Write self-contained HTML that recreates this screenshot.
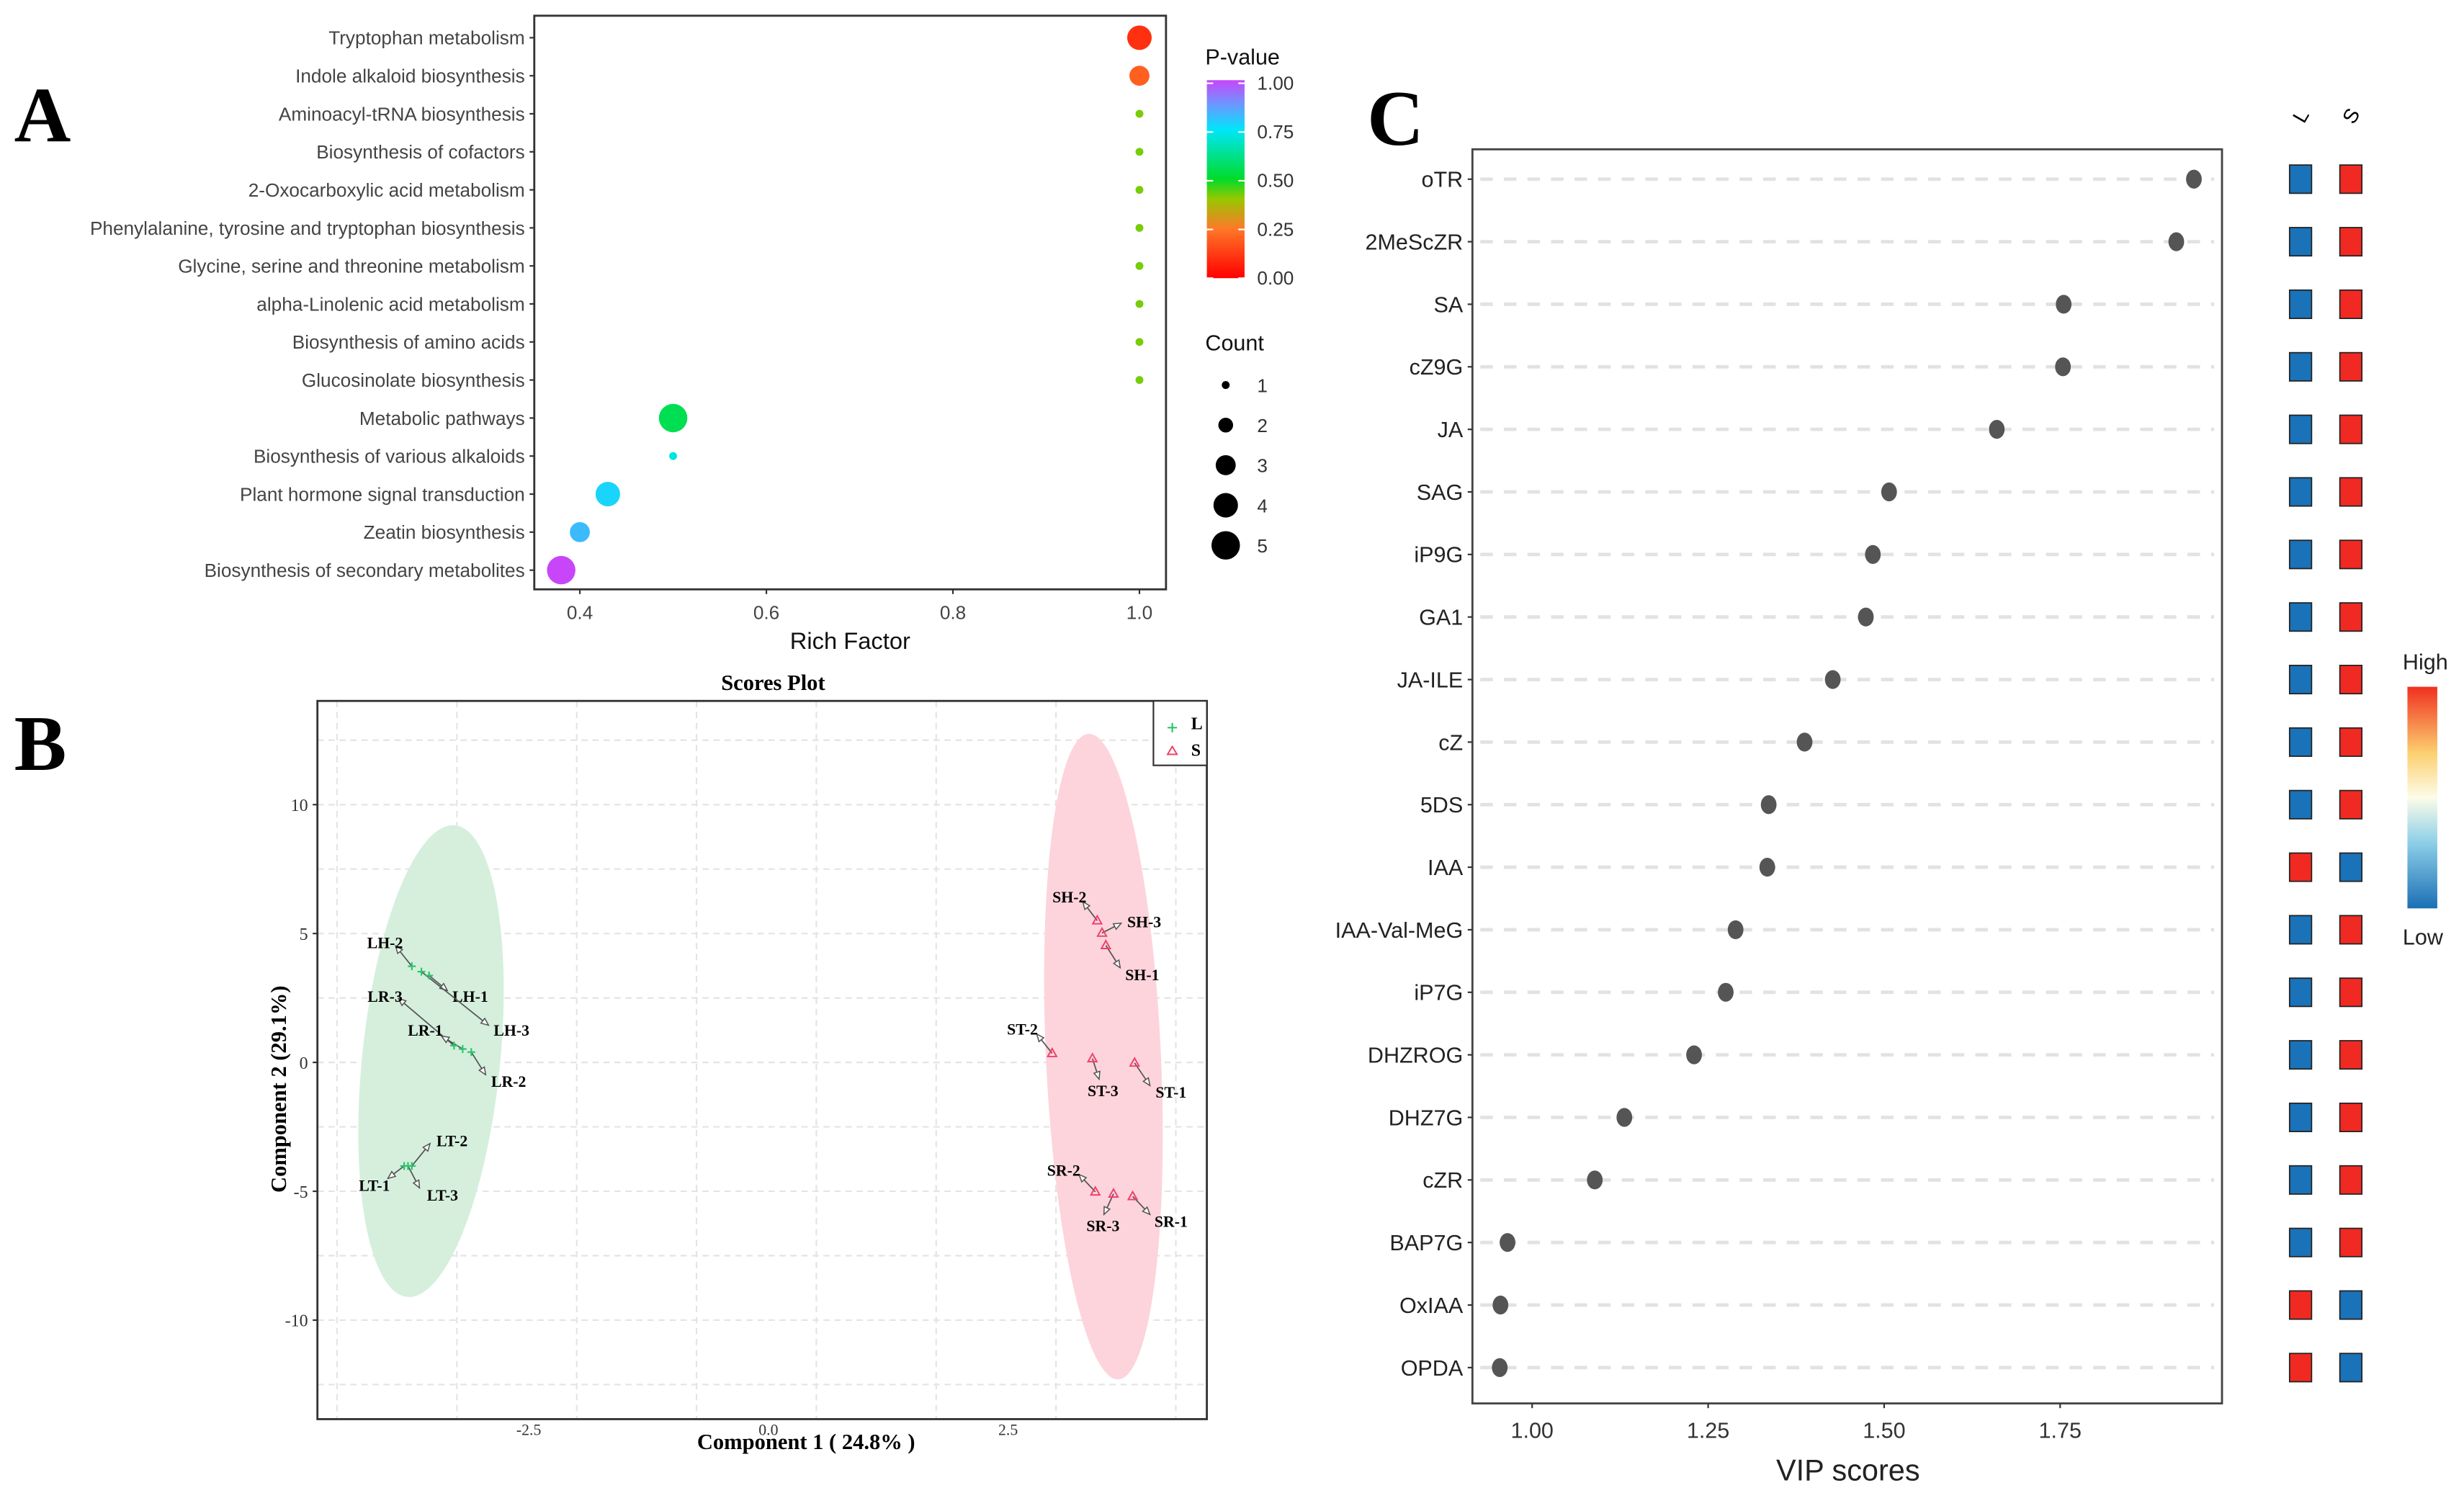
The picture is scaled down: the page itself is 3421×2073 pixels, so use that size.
<!DOCTYPE html>
<html><head><meta charset="utf-8"><style>
html,body{margin:0;padding:0;background:#fff;}
svg{display:block;}
text{font-family:"Liberation Sans",sans-serif;}
.serif{font-family:"Liberation Serif",serif;}
</style></head><body>
<svg id="fig" xmlns="http://www.w3.org/2000/svg" width="3421" height="2073" viewBox="0 0 1568 950" preserveAspectRatio="none">
<rect width="1568" height="950" fill="#fff"/>
<g id="A"></g>
<g id="B"></g>
<g id="C"></g>
</svg>
<script>
// ---------- Panel A data ----------
const pathways = ["Tryptophan metabolism","Indole alkaloid biosynthesis","Aminoacyl-tRNA biosynthesis","Biosynthesis of cofactors","2-Oxocarboxylic acid metabolism","Phenylalanine, tyrosine and tryptophan biosynthesis","Glycine, serine and threonine metabolism","alpha-Linolenic acid metabolism","Biosynthesis of amino acids","Glucosinolate biosynthesis","Metabolic pathways","Biosynthesis of various alkaloids","Plant hormone signal transduction","Zeatin biosynthesis","Biosynthesis of secondary metabolites"];
const richFactor = [1.0,1.0,1.0,1.0,1.0,1.0,1.0,1.0,1.0,1.0,0.5,0.5,0.43,0.4,0.38];
const pValues = [0.1,0.2,0.42,0.42,0.42,0.42,0.42,0.42,0.42,0.42,0.55,0.72,0.78,0.82,1.0];
const counts = [4,3,1,1,1,1,1,1,1,1,5,1,4,3,5];
const richTicks = [0.4,0.6,0.8,1.0];
const pTicks = ["1.00","0.75","0.50","0.25","0.00"];
const countTicks = [1,2,3,4,5];
// ---------- Panel B data ----------
const lPoints = [[-3.72,3.73],[-3.62,3.52],[-3.54,3.37],[-3.28,0.65],[-3.19,0.52],[-3.10,0.40],[-3.80,-4.02],[-3.76,-4.02],[-3.72,-4.02]];
const sPoints = [[3.43,5.5],[3.48,5.02],[3.52,4.54],[2.96,0.35],[3.38,0.15],[3.82,-0.02],[3.41,-5.02],[3.6,-5.1],[3.8,-5.2]];
const sampleLabels = ["LH-2","LH-1","LH-3","LR-3","LR-1","LR-2","LT-2","LT-1","LT-3","SH-2","SH-3","SH-1","ST-2","ST-3","ST-1","SR-2","SR-3","SR-1"];
const labelPos = [[-4.0,4.65],[-3.11,2.56],[-2.68,1.25],[-4.0,2.56],[-3.58,1.25],[-2.71,-0.73],[-3.3,-3.04],[-4.11,-4.77],[-3.4,-5.15],[3.14,6.42],[3.92,5.46],[3.9,3.4],[2.65,1.29],[3.49,-1.1],[4.2,-1.15],[3.08,-4.19],[3.49,-6.33],[4.2,-6.17]];
const arrowFrom = [[-3.72,3.73],[-3.54,3.37],[-3.62,3.52],[-3.28,0.65],[-3.19,0.52],[-3.10,0.40],[-3.72,-4.02],[-3.8,-4.02],[-3.76,-4.02],[3.43,5.5],[3.48,5.02],[3.52,4.54],[2.96,0.35],[3.38,0.15],[3.82,-0.02],[3.41,-5.02],[3.6,-5.1],[3.8,-5.2]];
const arrowTo = [[-3.89,4.52],[-3.35,2.79],[-2.92,1.44],[-3.86,2.48],[-3.41,1.02],[-2.95,-0.48],[-3.53,-3.15],[-3.97,-4.5],[-3.64,-4.87],[3.28,6.23],[3.68,5.4],[3.67,3.67],[2.8,1.1],[3.45,-0.65],[3.98,-0.9],[3.24,-4.35],[3.5,-5.9],[3.98,-5.9]];
const xTicksB = [-2.5,0,2.5];
const yTicksB = [10,5,0,-5,-10];
const ellipseL = {top:[-3.27,9.2],bottom:[-3.77,-9.1],hw:0.72};
const ellipseS = {top:[3.34,12.75],bottom:[3.65,-12.3],hw:0.6};
// ---------- Panel C data ----------
const compounds = ["oTR","2MeScZR","SA","cZ9G","JA","SAG","iP9G","GA1","JA-ILE","cZ","5DS","IAA","IAA-Val-MeG","iP7G","DHZROG","DHZ7G","cZR","BAP7G","OxIAA","OPDA"];
const vipScores = [1.94,1.915,1.755,1.754,1.66,1.507,1.484,1.474,1.427,1.387,1.336,1.334,1.289,1.275,1.23,1.131,1.089,0.965,0.955,0.954];
const lHigh = [0,0,0,0,0,0,0,0,0,0,0,1,0,0,0,0,0,0,1,1];
const vipTicks = ["1.00","1.25","1.50","1.75"];

const NS="http://www.w3.org/2000/svg";
function mk(parent,tag,attrs,txt){const e=document.createElementNS(NS,tag);for(const k in attrs)e.setAttribute(k,attrs[k]);if(txt!==undefined)e.textContent=txt;parent.appendChild(e);return e;}
function pColor(p){
  const st=[[0,[255,0,0]],[0.25,[255,120,40]],[0.4,[150,200,0]],[0.5,[0,220,40]],[0.75,[0,230,250]],[0.88,[110,150,255]],[1,[200,70,250]]];
  for(let i=0;i<st.length-1;i++){if(p<=st[i+1][0]){const f=(p-st[i][0])/(st[i+1][0]-st[i][0]);const a=st[i][1],b=st[i+1][1];return 'rgb('+a.map((v,k)=>Math.round(v+(b[k]-v)*f)).join(',')+')';}}
  return 'rgb(200,70,250)';
}

// ===== Panel A =====
(function(){
const g=document.getElementById('A');
const L=340,R=742,T=10,B=375;
const xA=v=>369+(v-0.4)/0.2*118.7;
const yA=i=>24+i*24.2;
const t=mk(g,'text',{x:9,y:90,'font-size':50,'font-weight':'bold',class:'serif'},'A');

const box=mk(g,'rect',{x:L,y:T,width:R-L,height:B-T,fill:'#fff',stroke:'#333','stroke-width':1.3});

pathways.forEach((p,i)=>{
  mk(g,'line',{x1:L-3,x2:L,y1:yA(i),y2:yA(i),stroke:'#333'});
  const e=mk(g,'text',{x:L-6,y:yA(i)+4.3,'font-size':12,'text-anchor':'end',fill:'#444'},p);
  
});
richTicks.forEach(v=>{
  mk(g,'line',{x1:xA(v),x2:xA(v),y1:B,y2:B+3,stroke:'#333'});
  const e=mk(g,'text',{x:xA(v),y:B+19,'font-size':12,'text-anchor':'middle',fill:'#444'},v.toFixed(1));
  
});
const xt=mk(g,'text',{x:541,y:413,'font-size':15,'text-anchor':'middle',fill:'#111'},'Rich Factor');

const rFor=c=>Math.sqrt(c)*5.3-2.8;
pathways.forEach((p,i)=>{
  const c=mk(g,'circle',{cx:xA(richFactor[i]),cy:yA(i),r:rFor(counts[i]),fill:pColor(pValues[i])});
  
});
const lt=mk(g,'text',{x:767,y:41,'font-size':14,fill:'#111'},'P-value');

const defs=mk(g,'defs',{});
const gr=mk(defs,'linearGradient',{id:'pg',x1:0,y1:1,x2:0,y2:0});
for(let k=0;k<=20;k++){mk(gr,'stop',{offset:k/20,'stop-color':pColor(k/20)});}
const cb=mk(g,'rect',{x:768,y:51,width:24,height:126,fill:'url(#pg)'});

pTicks.forEach((s,i)=>{
  const y=53+i*31;
  mk(g,'line',{x1:768,x2:772,y1:y,y2:y,stroke:'#fff'});mk(g,'line',{x1:788,x2:792,y1:y,y2:y,stroke:'#fff'});
  mk(g,'text',{x:800,y:y+4,'font-size':12,fill:'#333'},s);
});
const ct=mk(g,'text',{x:767,y:223,'font-size':14,fill:'#111'},'Count');

countTicks.forEach((c,i)=>{
  const y=245+i*25.5;
  const d=mk(g,'circle',{cx:780,cy:y,r:rFor(c),fill:'#000'});
  
  mk(g,'text',{x:800,y:y+4.5,'font-size':12,fill:'#333'},String(c));
});
})();

// ===== Panel B =====
(function(){
const g=document.getElementById('B');
const L=202,R=768,T=446,B=903;
const xB=v=>489+v*61;
const yB=v=>676-v*16.4;
const t=mk(g,'text',{x:9,y:490,'font-size':50,'font-weight':'bold',class:'serif'},'B');

const tt=mk(g,'text',{x:492,y:439,'font-size':14,'font-weight':'bold','text-anchor':'middle',class:'serif'},'Scores Plot');

mk(g,'rect',{x:L,y:T,width:R-L,height:B-T,fill:'#fff'});
for(let v=-4.5;v<=4.5;v+=1.25){const x=xB(v);if(x>L&&x<R)mk(g,'line',{x1:x,x2:x,y1:T,y2:B,stroke:'#e4e4e4','stroke-dasharray':'4,3'});}
for(let v=-12.5;v<=12.5;v+=2.5){const y=yB(v);if(y>T&&y<B)mk(g,'line',{x1:L,x2:R,y1:y,y2:y,stroke:'#e4e4e4','stroke-dasharray':'4,3'});}
function ell(e,fill,name){
  const x1=xB(e.top[0]),y1=yB(e.top[1]),x2=xB(e.bottom[0]),y2=yB(e.bottom[1]);
  const cx=(x1+x2)/2,cy=(y1+y2)/2,ry=Math.hypot(x2-x1,y2-y1)/2,ang=Math.atan2(x1-x2,y2-y1)*180/Math.PI;
  const el=mk(g,'ellipse',{cx:cx,cy:cy,rx:e.hw*61,ry:ry,fill:fill,transform:`rotate(${ang} ${cx} ${cy})`});
  
}
ell(ellipseL,'#d5efdc','ellipse-l');
ell(ellipseS,'#fdd4dc','ellipse-s');
mk(g,'rect',{x:L,y:T,width:R-L,height:B-T,fill:'none',stroke:'#333','stroke-width':1.3});
xTicksB.forEach(v=>{const e=mk(g,'text',{x:xB(v),y:B+10,'font-size':10,'text-anchor':'middle',class:'serif',fill:'#333'},v.toFixed(1));});
yTicksB.forEach(v=>{mk(g,'line',{x1:L-3,x2:L,y1:yB(v),y2:yB(v),stroke:'#333'});const e=mk(g,'text',{x:L-6,y:yB(v)+4,'font-size':11,'text-anchor':'end',class:'serif',fill:'#333'},String(v));});
const xt=mk(g,'text',{x:513,y:922,'font-size':14,'font-weight':'bold','text-anchor':'middle',class:'serif'},'Component 1 ( 24.8% )');

const yt=mk(g,'text',{x:0,y:0,'font-size':14,'font-weight':'bold','text-anchor':'middle',class:'serif',transform:'translate(182,693) rotate(-90)'},'Component 2  (29.1%)');

sampleLabels.forEach((s,i)=>{
  const fx=xB(arrowFrom[i][0]),fy=yB(arrowFrom[i][1]),tx=xB(arrowTo[i][0]),ty=yB(arrowTo[i][1]);
  mk(g,'line',{x1:fx,y1:fy,x2:tx,y2:ty,stroke:'#555','stroke-width':0.8});
  const a=Math.atan2(ty-fy,tx-fx);
  const p=[[tx,ty],[tx-5*Math.cos(a-0.4),ty-5*Math.sin(a-0.4)],[tx-5*Math.cos(a+0.4),ty-5*Math.sin(a+0.4)]];
  mk(g,'polygon',{points:p.map(q=>q.join(',')).join(' '),fill:'#fff',stroke:'#555','stroke-width':0.7});
  const e=mk(g,'text',{x:xB(labelPos[i][0]),y:yB(labelPos[i][1])+3.5,'font-size':10,'font-weight':'bold','text-anchor':'middle',class:'serif'},s);
  
});
lPoints.forEach(p=>{const x=xB(p[0]),y=yB(p[1]);const m=mk(g,'path',{d:`M${x-2.5},${y}H${x+2.5}M${x},${y-2.5}V${y+2.5}`,stroke:'#2cc46a','stroke-width':1});});
sPoints.forEach(p=>{const x=xB(p[0]),y=yB(p[1]);const m=mk(g,'polygon',{points:`${x},${y-3} ${x-2.8},${y+2} ${x+2.8},${y+2}`,fill:'none',stroke:'#f0406a','stroke-width':0.9});});
const lg=mk(g,'rect',{x:734,y:446,width:34,height:41,fill:'#fff',stroke:'#333','stroke-width':1});

mk(g,'path',{d:'M743,463H749M746,460V466',stroke:'#2cc46a','stroke-width':1});
mk(g,'text',{x:758,y:464,'font-size':11,'font-weight':'bold',class:'serif'},'L');
mk(g,'polygon',{points:'746,475 743,480 749,480',fill:'none',stroke:'#f0406a','stroke-width':0.9});
mk(g,'text',{x:758,y:481,'font-size':11,'font-weight':'bold',class:'serif'},'S');
})();

// ===== Panel C =====
(function(){
const g=document.getElementById('C');
const L=937,R=1414,T=95,B=893;
const xC=v=>975+(v-1)/0.25*112;
const yC=i=>114+i*39.8;
const t=mk(g,'text',{x:870,y:92,'font-size':50,'font-weight':'bold',class:'serif'},'C');

mk(g,'rect',{x:L,y:T,width:R-L,height:B-T,fill:'#fff',stroke:'#444','stroke-width':1.3});
compounds.forEach((c,i)=>{
  const y=yC(i);
  mk(g,'line',{x1:L+5,x2:R-5,y1:y,y2:y,stroke:'#e2e2e2','stroke-width':2.2,'stroke-dasharray':'8,7'});
  mk(g,'line',{x1:L-3,x2:L,y1:y,y2:y,stroke:'#333'});
  const e=mk(g,'text',{x:L-6,y:y+5,'font-size':14,'text-anchor':'end',fill:'#222'},c);
  
  const d=mk(g,'ellipse',{cx:xC(vipScores[i]),cy:y,rx:5,ry:6,fill:'#555'});
  
  const c1=mk(g,'rect',{x:1457,y:y-9,width:14,height:18,fill:lHigh[i]?'#f02a22':'#1a72b8',stroke:'#222','stroke-width':0.8});
  
  const c2=mk(g,'rect',{x:1489,y:y-9,width:14,height:18,fill:lHigh[i]?'#1a72b8':'#f02a22',stroke:'#222','stroke-width':0.8});
  
});
vipTicks.forEach(s=>{
  const x=xC(parseFloat(s));
  mk(g,'line',{x1:x,x2:x,y1:B,y2:B+3,stroke:'#333'});
  const e=mk(g,'text',{x:x,y:B+22,'font-size':14,'text-anchor':'middle',fill:'#333'},s);
  
});
const xt=mk(g,'text',{x:1176,y:942,'font-size':19,'text-anchor':'middle',fill:'#222'},'VIP scores');

mk(g,'text',{x:0,y:0,'font-size':13,'text-anchor':'middle',transform:'translate(1468,76) rotate(-60)'},'L');
mk(g,'text',{x:0,y:0,'font-size':13,'text-anchor':'middle',transform:'translate(1500,76) rotate(-60)'},'S');
const defs=mk(g,'defs',{});
const gr=mk(defs,'linearGradient',{id:'hg',x1:0,y1:1,x2:0,y2:0});
[['0','#1a6fb5'],['0.3','#8fd0e8'],['0.5','#fcfce8'],['0.7','#fcd070'],['1','#f03020']].forEach(s=>mk(gr,'stop',{offset:s[0],'stop-color':s[1]}));
const hb=mk(g,'rect',{x:1532,y:437,width:19,height:141,fill:'url(#hg)'});

mk(g,'text',{x:1529,y:426,'font-size':14,fill:'#222'},'High');
mk(g,'text',{x:1529,y:601,'font-size':14,fill:'#222'},'Low');
})();
</script>
</body></html>
